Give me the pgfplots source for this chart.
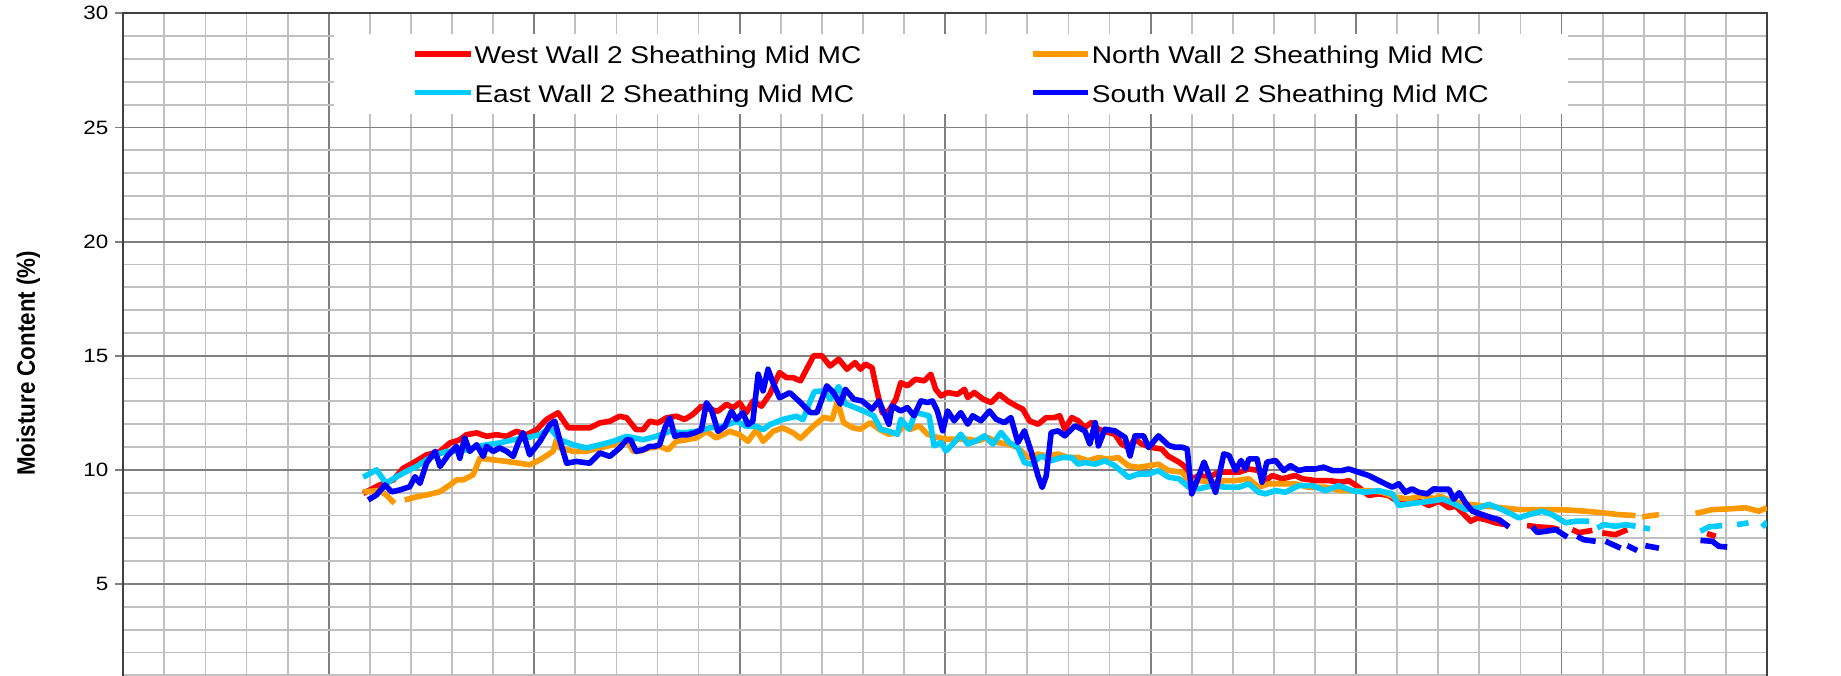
\documentclass[border=0pt]{standalone}
\usepackage{fontspec}
\setmainfont{Liberation Sans}[FakeStretch=1.16]
\newfontfamily\plainfont{Liberation Sans}
\usepackage{graphicx}
\usepackage{pgfplots}
\pgfplotsset{compat=1.18}
\definecolor{cWest}{HTML}{FF0000}
\definecolor{cNorth}{HTML}{FF9900}
\definecolor{cEast}{HTML}{00CCFF}
\definecolor{cSouth}{HTML}{0000FF}
\definecolor{gmin}{HTML}{C0C0C0}
\definecolor{gmaj}{HTML}{808080}
\begin{document}
\begin{tikzpicture}
\useasboundingbox (-61.65pt,11.07pt) rectangle (859pt,349.12pt);
\begin{axis}[
  scale only axis, width=822pt, height=342.45pt,
  xmin=0, xmax=40, ymin=0, ymax=30,
  xtick={0,5,...,40}, minor x tick num=4,
  ytick={5,10,...,30}, minor ytick={0,1,...,30},
  xticklabels={},
  grid=both,
  major grid style={draw=gmaj, line width=0.9pt},
  minor grid style={draw=gmin, line width=0.9pt},
  axis line style={draw=black!75, line width=1pt},
  tick align=outside, ytick pos=left,
  xtick style={draw=none},
  major tick length=4pt, minor tick length=0pt,
  ytick style={draw=gmaj, line width=0.9pt},
  /pgf/number format/assume math mode=true,
  yticklabel style={font=\fontsize{9.65}{11}\selectfont},
  ylabel={\scalebox{1}[1.13]{\plainfont\bfseries\fontsize{11.2}{13}\selectfont Moisture Content (\%)}},
  every axis y label/.style={at={(axis description cs:-0.0578,0.489)}, anchor=center, rotate=90},
  unbounded coords=jump,
  legend columns=2,
  legend cell align=left,
  legend style={at={(axis cs:7.029,28.774)}, anchor=north west, draw=none, fill=none,
    inner sep=0pt, font=\fontsize{12.1}{14}\selectfont, row sep=7.4pt,
    nodes={inner sep=0pt, text height=11pt, text depth=1pt},
    /tikz/every odd column/.style={column sep=0.6pt},
    /tikz/every even column/.style={column sep=84.3pt}},
  legend image code/.code={\draw[#1, line width=2.8pt] (0pt,0pt) -- (27.6pt,0pt);},
  every axis plot/.append style={line width=2.8pt, line join=round},
]
\fill[white] (axis cs:5.12,25.58) rectangle (axis cs:35.16,29.08);

\addplot[cWest] coordinates {(5.84,8.97)(6.24,9.34)(6.57,9.56)(6.81,10.07)(7.05,10.3)(7.38,10.66)(7.7,10.8)(7.95,11.18)(8.19,11.32)(8.35,11.54)(8.6,11.62)(8.84,11.47)(9.08,11.54)(9.33,11.47)(9.57,11.69)(9.81,11.54)(10.06,11.76)(10.3,12.21)(10.58,12.5)(10.83,11.84)(11.11,11.84)(11.35,11.84)(11.6,12.06)(11.84,12.13)(12.08,12.35)(12.25,12.28)(12.48,11.76)(12.65,11.76)(12.81,12.13)(13.01,12.06)(13.22,12.28)(13.46,12.35)(13.66,12.21)(13.86,12.43)(14.07,12.79)(14.27,12.65)(14.47,12.57)(14.68,12.87)(14.84,12.72)(15.0,12.94)(15.16,12.5)(15.32,13.01)(15.53,12.79)(15.73,13.31)(15.97,14.26)(16.14,14.04)(16.3,14.04)(16.48,13.9)(16.8,15.0)(17.0,15.0)(17.2,14.55)(17.41,14.85)(17.61,14.41)(17.81,14.7)(17.94,14.41)(18.06,14.63)(18.22,14.48)(18.35,13.39)(18.47,12.5)(18.63,12.58)(18.8,13.09)(18.92,13.82)(19.08,13.68)(19.28,13.97)(19.49,13.9)(19.65,14.19)(19.77,13.53)(19.9,13.24)(20.06,13.39)(20.3,13.31)(20.47,13.53)(20.55,13.17)(20.71,13.39)(20.92,13.1)(21.12,12.95)(21.32,13.31)(21.52,13.02)(21.73,12.8)(21.89,12.66)(22.05,12.15)(22.26,12.0)(22.46,12.29)(22.66,12.29)(22.79,12.37)(22.91,11.78)(23.08,12.29)(23.24,12.15)(23.4,11.86)(23.56,12.07)(23.73,11.78)(23.97,11.64)(24.13,11.56)(24.29,11.13)(24.46,10.98)(24.62,11.35)(24.78,11.13)(25.03,10.98)(25.27,10.91)(25.43,10.6)(25.69,10.34)(25.85,10.12)(25.93,9.53)(26.17,9.75)(26.42,9.68)(26.66,9.9)(26.91,9.9)(27.15,9.9)(27.39,10.04)(27.63,9.97)(27.79,9.53)(27.96,9.75)(28.2,9.61)(28.52,9.75)(28.69,9.61)(29.01,9.53)(29.34,9.53)(29.66,9.46)(29.82,9.53)(30.06,9.24)(30.31,8.88)(30.55,8.95)(30.79,8.88)(31.04,8.58)(31.28,8.51)(31.52,8.66)(31.77,8.44)(32.02,8.63)(32.26,8.34)(32.42,8.41)(32.59,8.12)(32.79,7.75)(32.95,7.9)(33.15,7.82)(33.39,7.68)(33.64,7.6)(33.72,7.5)(33.9,nan)(34.16,7.56)(34.45,7.5)(34.77,7.46)(34.94,7.38)(35.1,nan)(35.26,7.38)(35.42,7.25)(35.75,7.35)(35.85,nan)(35.99,7.24)(36.31,7.16)(36.6,7.38)(37,nan)(38.54,7.21)(38.75,7.09)};
\addlegendentry{West Wall 2 Sheathing Mid MC}

\addplot[cNorth] coordinates {(5.84,9.04)(6.24,9.1)(6.4,8.9)(6.6,8.53)(6.72,nan)(6.85,8.68)(7.14,8.82)(7.38,8.9)(7.7,9.04)(7.95,9.34)(8.11,9.56)(8.27,9.56)(8.51,9.78)(8.68,10.51)(9.0,10.44)(9.33,10.37)(9.65,10.29)(9.89,10.22)(10.14,10.44)(10.46,10.81)(10.54,11.32)(10.62,10.96)(10.95,10.81)(11.27,10.81)(11.6,10.96)(11.92,11.1)(12.25,11.32)(12.41,10.81)(12.56,10.81)(12.81,10.96)(13.05,11.03)(13.26,10.88)(13.46,11.25)(13.7,11.32)(13.95,11.4)(14.19,11.69)(14.43,11.4)(14.76,11.69)(15.0,11.54)(15.2,11.25)(15.41,11.76)(15.57,11.25)(15.81,11.69)(16.05,11.84)(16.3,11.62)(16.48,11.38)(16.8,11.93)(17.05,12.3)(17.25,12.22)(17.38,13.0)(17.53,12.07)(17.74,11.85)(17.94,11.78)(18.18,12.07)(18.39,11.78)(18.63,11.56)(18.84,11.63)(19.0,11.93)(19.16,11.78)(19.37,11.93)(19.57,11.56)(19.81,11.42)(20.06,11.34)(20.3,11.34)(20.55,11.34)(20.79,11.27)(21.04,11.42)(21.28,11.2)(21.52,11.13)(21.77,10.98)(22.01,10.54)(22.26,10.69)(22.5,10.61)(22.75,10.69)(22.99,10.54)(23.24,10.54)(23.48,10.4)(23.73,10.54)(23.97,10.47)(24.21,10.54)(24.46,10.18)(24.7,10.11)(24.95,10.18)(25.19,10.25)(25.44,9.97)(25.77,9.9)(25.93,9.46)(26.17,9.53)(26.58,9.46)(26.82,9.53)(27.07,9.53)(27.39,9.61)(27.63,9.24)(27.88,9.39)(28.2,9.39)(28.52,9.39)(28.85,9.24)(29.25,9.24)(29.66,9.09)(29.98,9.09)(30.31,9.09)(30.63,9.02)(30.96,8.8)(31.28,8.73)(31.61,8.88)(31.93,8.73)(32.02,8.85)(32.34,8.63)(32.75,8.49)(33.15,8.41)(33.56,8.34)(33.96,8.26)(34.37,8.26)(34.77,8.26)(35.18,8.24)(35.58,8.19)(35.99,8.12)(36.39,8.04)(36.8,8.0)(36.88,nan)(36.96,7.94)(37.37,8.04)(37.8,nan)(38.26,8.09)(38.67,8.26)(39.07,8.29)(39.48,8.34)(39.8,8.19)(40.0,8.34)};
\addlegendentry{North Wall 2 Sheathing Mid MC}

\addplot[cEast] coordinates {(5.84,9.68)(6.16,10.0)(6.4,9.41)(6.65,9.7)(6.89,9.93)(7.14,10.15)(7.38,10.44)(7.62,10.66)(7.87,10.81)(8.19,10.81)(8.51,10.96)(8.84,11.1)(9.16,11.18)(9.49,11.32)(9.81,11.4)(10.14,11.54)(10.38,11.84)(10.62,11.32)(10.95,11.1)(11.27,10.96)(11.6,11.1)(11.92,11.25)(12.25,11.47)(12.65,11.32)(12.97,11.47)(13.3,11.69)(13.62,11.62)(13.95,11.69)(14.27,11.84)(14.6,11.91)(14.92,12.13)(15.16,11.91)(15.41,11.91)(15.57,11.76)(15.73,11.98)(16.05,12.21)(16.38,12.35)(16.54,12.2)(16.7,12.94)(16.82,13.43)(17.05,13.46)(17.2,13.1)(17.41,13.65)(17.57,12.9)(17.81,12.73)(18.1,12.51)(18.26,12.37)(18.43,11.78)(18.59,11.71)(18.84,11.56)(18.92,12.22)(19.12,11.78)(19.28,12.51)(19.45,12.44)(19.61,12.37)(19.73,11.05)(19.9,11.2)(20.02,10.83)(20.22,11.2)(20.38,11.56)(20.55,11.13)(20.75,11.27)(20.96,11.49)(21.16,11.13)(21.36,11.64)(21.56,11.2)(21.77,10.98)(21.93,10.32)(22.1,10.25)(22.34,10.61)(22.58,10.4)(22.83,10.54)(23.08,10.54)(23.24,10.25)(23.4,10.32)(23.65,10.25)(23.89,10.4)(24.13,10.18)(24.46,9.67)(24.7,9.82)(24.95,9.82)(25.19,9.96)(25.44,9.68)(25.69,9.61)(25.93,9.24)(26.17,9.17)(26.5,9.31)(26.82,9.24)(27.15,9.24)(27.39,9.39)(27.63,9.02)(27.79,8.95)(28.04,9.09)(28.28,9.02)(28.6,9.31)(28.93,9.31)(29.25,9.09)(29.58,9.31)(29.9,9.09)(30.23,9.02)(30.55,9.09)(30.88,8.95)(31.04,8.44)(31.28,8.51)(31.61,8.58)(31.93,8.66)(32.1,8.72)(32.34,8.56)(32.66,8.26)(32.99,8.34)(33.23,8.49)(33.56,8.26)(33.96,7.9)(34.21,8.04)(34.53,8.19)(34.77,8.04)(35.1,7.68)(35.34,7.75)(35.67,7.75)(35.77,nan)(35.87,7.46)(36.03,7.6)(36.31,7.53)(36.56,7.6)(36.8,7.53)(36.9,nan)(37.0,7.46)(37.15,7.41)(37.8,nan)(38.38,7.31)(38.58,7.5)(38.91,7.56)(39.1,nan)(39.27,7.6)(39.55,7.68)(39.75,nan)(39.88,7.5)(40.0,7.71)};
\addlegendentry{East Wall 2 Sheathing Mid MC}

\addplot[cSouth] coordinates {(5.96,8.68)(6.16,8.9)(6.37,9.34)(6.53,9.04)(6.73,9.12)(6.97,9.26)(7.1,9.7)(7.22,9.41)(7.38,10.3)(7.59,10.81)(7.71,10.15)(7.91,10.66)(8.11,11.03)(8.19,10.51)(8.31,11.4)(8.43,10.81)(8.6,11.1)(8.76,10.59)(8.84,11.03)(9.0,10.81)(9.16,10.96)(9.33,10.81)(9.49,10.59)(9.61,11.18)(9.73,11.62)(9.89,10.66)(10.14,11.25)(10.38,11.98)(10.5,12.13)(10.62,11.32)(10.79,10.29)(11.03,10.37)(11.35,10.29)(11.6,10.74)(11.84,10.59)(12.08,10.96)(12.25,11.32)(12.35,11.3)(12.48,10.81)(12.65,10.88)(12.81,11.03)(12.93,11.03)(13.05,11.1)(13.18,11.84)(13.3,12.28)(13.42,11.47)(13.58,11.54)(13.74,11.54)(13.9,11.62)(14.07,11.76)(14.19,12.94)(14.31,12.65)(14.47,11.69)(14.64,11.91)(14.8,12.57)(14.92,12.21)(15.08,12.5)(15.2,11.98)(15.32,12.13)(15.45,14.19)(15.57,13.46)(15.69,14.41)(15.81,13.82)(15.97,13.16)(16.22,13.38)(16.48,12.95)(16.72,12.51)(16.88,12.51)(17.12,13.68)(17.28,13.39)(17.45,12.88)(17.57,13.53)(17.78,13.09)(17.98,13.02)(18.22,12.66)(18.39,13.02)(18.63,12.0)(18.71,12.8)(18.92,12.58)(19.08,12.73)(19.24,12.37)(19.41,13.02)(19.57,12.95)(19.69,13.02)(19.81,12.58)(19.94,11.71)(20.06,12.58)(20.22,12.15)(20.38,12.51)(20.55,12.0)(20.67,12.37)(20.87,12.15)(21.08,12.58)(21.24,12.22)(21.44,12.07)(21.6,12.29)(21.77,11.2)(21.93,11.71)(22.1,10.76)(22.26,9.74)(22.36,9.23)(22.46,9.74)(22.58,11.64)(22.75,11.71)(22.91,11.49)(23.16,11.93)(23.4,11.71)(23.52,11.13)(23.65,12.07)(23.73,11.05)(23.89,11.78)(24.13,11.71)(24.38,11.42)(24.5,10.61)(24.62,11.49)(24.83,11.49)(24.95,10.98)(25.19,11.49)(25.44,11.07)(25.6,10.99)(25.77,10.99)(25.89,10.92)(26.0,8.95)(26.13,9.53)(26.3,10.34)(26.58,9.02)(26.78,10.7)(26.91,10.63)(27.07,9.97)(27.2,10.41)(27.31,10.04)(27.39,10.48)(27.59,10.48)(27.71,9.46)(27.83,10.34)(28.04,10.41)(28.24,9.97)(28.4,10.19)(28.6,9.97)(28.77,10.04)(29.01,10.04)(29.21,10.12)(29.42,9.97)(29.66,9.97)(29.82,10.04)(30.06,9.9)(30.31,9.75)(30.55,9.53)(30.71,9.39)(30.88,9.24)(31.04,9.39)(31.2,9.02)(31.36,9.17)(31.52,9.02)(31.73,8.95)(31.89,9.17)(32.02,9.15)(32.26,9.15)(32.38,8.71)(32.51,9.0)(32.66,8.56)(32.83,8.19)(33.07,8.04)(33.31,7.9)(33.48,7.82)(33.72,7.5)(34.0,nan)(34.29,7.5)(34.41,7.26)(34.61,7.31)(34.86,7.38)(35.14,7.06)(35.26,nan)(35.38,7.09)(35.54,6.94)(35.83,6.87)(35.95,nan)(36.07,6.87)(36.44,6.57)(36.52,nan)(36.6,6.68)(36.84,6.47)(36.94,nan)(37.04,6.68)(37.37,6.57)(37.8,nan)(38.38,6.91)(38.67,6.87)(38.83,6.65)(39.03,6.62)};
\addlegendentry{South Wall 2 Sheathing Mid MC}
\end{axis}
\end{tikzpicture}
\end{document}
